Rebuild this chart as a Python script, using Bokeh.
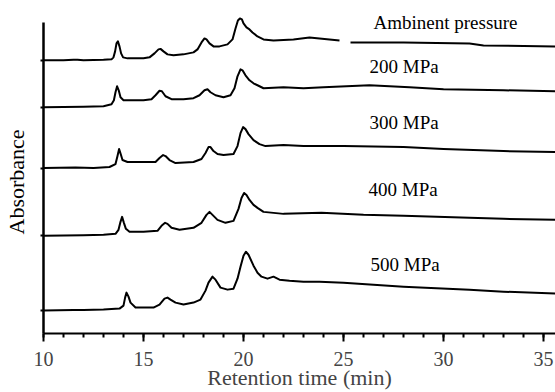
import math
from bokeh.plotting import figure
from bokeh.models import Range1d, FixedTicker, Label, Title
from bokeh.embed import file_html
from bokeh.resources import INLINE

# ---------------- data (retention time in min, absorbance in arbitrary units) ----------------
labels = ["Ambinent pressure", "200 MPa", "300 MPa", "400 MPa", "500 MPa"]
offsets = [274, 227, 166, 98, 23]          # stacked baselines of the traces
x_ticks = [10, 15, 20, 25, 30, 35]
NaN = float("nan")

t_ambient = [10.0, 11.0, 11.5, 11.7, 12.0, 13.0, 13.4, 13.5, 13.58, 13.65, 13.72, 13.8, 13.88,
             13.98, 14.2, 15.0, 15.3, 15.55, 15.75, 15.85, 16.0, 16.2, 16.5, 17.0, 17.5, 17.7,
             17.9, 18.05, 18.15, 18.3, 18.5, 18.8, 19.2, 19.45, 19.6, 19.72, 19.82, 19.92, 20.0,
             20.15, 20.3, 20.45, 20.7, 21.0, 21.5, 22.5, 23.3, 24.3, 24.8, NaN, 25.35, 28.0,
             31.3, 32.0, 35.6]
a_ambient = [0, 0, 0.5, 0.5, 0, 0.5, 1, 3, 9, 17, 19, 14, 7,
             3, 2, 2, 3, 7, 11, 11.5, 9, 6, 5, 6, 8, 11,
             18, 22, 21, 17, 14, 14, 16, 21, 32, 40, 42, 41, 37,
             33, 31, 28, 24, 21, 20, 21, 23, 21, 20, NaN, 18, 18,
             17, 15, 14]

t_200 = [10.0, 12.0, 13.0, 13.4, 13.52, 13.6, 13.68, 13.76, 13.85, 14.0, 14.5, 15.0, 15.4, 15.6,
         15.8, 15.92, 16.1, 16.4, 17.0, 17.5, 17.8, 18.05, 18.2, 18.35, 18.6, 19.0, 19.35, 19.55,
         19.7, 19.85, 19.95, 20.1, 20.3, 20.5, 20.7, 21.0, 22.0, 23.0, 24.0, 26.3, 28.3, 30.0,
         33.0, 35.6]
a_200 = [0, 0.5, 1, 3, 7, 15, 21, 17, 10, 7, 7, 7, 8, 12,
         16.5, 16, 11, 8, 8, 9, 12, 17, 18, 15, 12, 10, 12, 19,
         31, 38, 37, 32, 27, 24, 22, 19, 20, 19, 20, 22, 20, 18,
         17, 16]

t_300 = [10.0, 11.6, 12.5, 13.3, 13.6, 13.7, 13.78, 13.86, 13.95, 14.2, 15.0, 15.6, 15.8, 15.98,
         16.1, 16.3, 16.6, 17.5, 17.9, 18.1, 18.25, 18.35, 18.5, 18.7, 19.0, 19.5, 19.7, 19.85,
         19.98, 20.1, 20.25, 20.5, 20.8, 21.1, 22.0, 23.0, 25.0, 28.0, 30.0, 33.0, 35.6]
a_300 = [0, 0.5, 0, 1, 4, 12, 19, 14, 8, 6, 6, 6, 10, 13,
         12, 8, 5, 6, 9, 15, 21, 21, 17, 14, 13, 14, 22, 35,
         41, 39, 34, 28, 24, 22, 23, 22, 22, 21, 19, 17, 16]

t_400 = [10.0, 12.0, 13.0, 13.6, 13.75, 13.85, 13.93, 14.02, 14.12, 14.3, 15.0, 15.7, 15.9, 16.08,
         16.2, 16.4, 16.8, 17.5, 17.9, 18.15, 18.3, 18.45, 18.7, 19.1, 19.5, 19.75, 19.9, 20.03,
         20.15, 20.3, 20.5, 20.7, 21.0, 21.5, 22.0, 23.9, 26.0, 28.0, 31.3, 33.0, 35.6]
a_400 = [0, 0.5, 1, 2, 6, 14, 19, 13, 7, 4, 4, 5, 10, 13,
         12, 8, 6, 8, 13, 21, 24, 21, 16, 13, 15, 27, 38, 43,
         41, 36, 31, 28, 24, 23, 22, 23, 21, 20, 18, 17, 16]

t_500 = [10.0, 11.5, 12.0, 13.0, 13.8, 14.0, 14.08, 14.15, 14.25, 14.35, 14.6, 15.5, 15.8, 16.05,
         16.2, 16.35, 16.6, 17.0, 17.5, 17.85, 18.1, 18.25, 18.45, 18.6, 18.85, 19.2, 19.5, 19.7,
         19.85, 20.0, 20.12, 20.25, 20.5, 20.7, 20.9, 21.2, 21.5, 21.8, 22.3, 23.0, 23.8, 25.0,
         28.0, 31.3, 33.0, 35.6]
a_500 = [0, 0.5, 0.5, 1, 2, 5, 13, 18, 14, 8, 3, 3, 6, 12,
         13, 11, 8, 6, 8, 11, 20, 28, 34, 31, 23, 21, 22, 32,
         44, 55, 59, 56, 45, 38, 34, 32, 34, 31, 30, 29, 29, 28,
         24, 21, 19, 17]

times = [t_ambient, t_200, t_300, t_400, t_500]
signals = [a_ambient, a_200, a_300, a_400, a_500]
label_times = [26.5, 26.3, 26.3, 26.25, 26.35]
label_levels = [312, 268, 212, 144, 69]

# ---------------- figure ----------------
FONT = "Liberation Serif"
p = figure(width=555, height=392, output_backend="svg", toolbar_location=None,
           x_range=Range1d(10, 35.6), y_range=Range1d(0, 324),
           min_border_left=43, min_border_right=0, min_border_top=10, min_border_bottom=58)
p.background_fill_color = "white"
p.border_fill_color = "white"
p.outline_line_color = None
p.xgrid.visible = False
p.ygrid.visible = False

for t, s, off in zip(times, signals, offsets):
    y = [NaN if math.isnan(v) else v + off for v in s]
    p.line(t, y, line_color="black", line_width=2, line_join="round")

for txt, lt, ll in zip(labels, label_times, label_levels):
    p.add_layout(Label(x=lt, y=ll, text=txt, text_font=FONT, text_font_size="19px",
                       text_baseline="middle", text_align="left", text_color="black"))

xa = p.xaxis[0]
xa.ticker = FixedTicker(ticks=x_ticks, minor_ticks=list(range(10, 36)))
xa.axis_line_width = 2
xa.major_tick_line_width = 2
xa.minor_tick_line_width = 2
xa.major_tick_out = 8
xa.major_tick_in = 0
xa.minor_tick_out = 4
xa.minor_tick_in = 0
xa.major_label_text_font = FONT
xa.major_label_text_font_size = "20px"
xa.major_label_standoff = 10
xa.axis_label = "Retention time (min)"
xa.axis_label_text_font = FONT
xa.axis_label_text_font_size = "22px"
xa.axis_label_text_font_style = "normal"
xa.axis_label_standoff = -4

ya = p.yaxis[0]
ya.ticker = FixedTicker(ticks=offsets, minor_ticks=[])
ya.bounds = (0, 312)
ya.axis_line_width = 2.5
ya.major_tick_line_width = 2
ya.major_tick_out = 3
ya.major_tick_in = 0
ya.minor_tick_out = 0
ya.minor_tick_in = 0
ya.major_label_overrides = {o: "" for o in offsets}
ya.major_label_text_font_size = "1px"
ya.major_label_standoff = 0
ya.axis_label = " "                     # spacer only, widens the axis panel
ya.axis_label_text_font_size = "1px"
ya.axis_label_standoff = 6

# y axis title as a side title, shifted along the axis like the reference
p.add_layout(Title(text="Absorbance", align="left", offset=99, standoff=0,
                   vertical_align="top",
                   text_font=FONT, text_font_size="22px", text_font_style="normal",
                   text_color="black"), "left")

open("out.html", "w").write(file_html(p, INLINE))
